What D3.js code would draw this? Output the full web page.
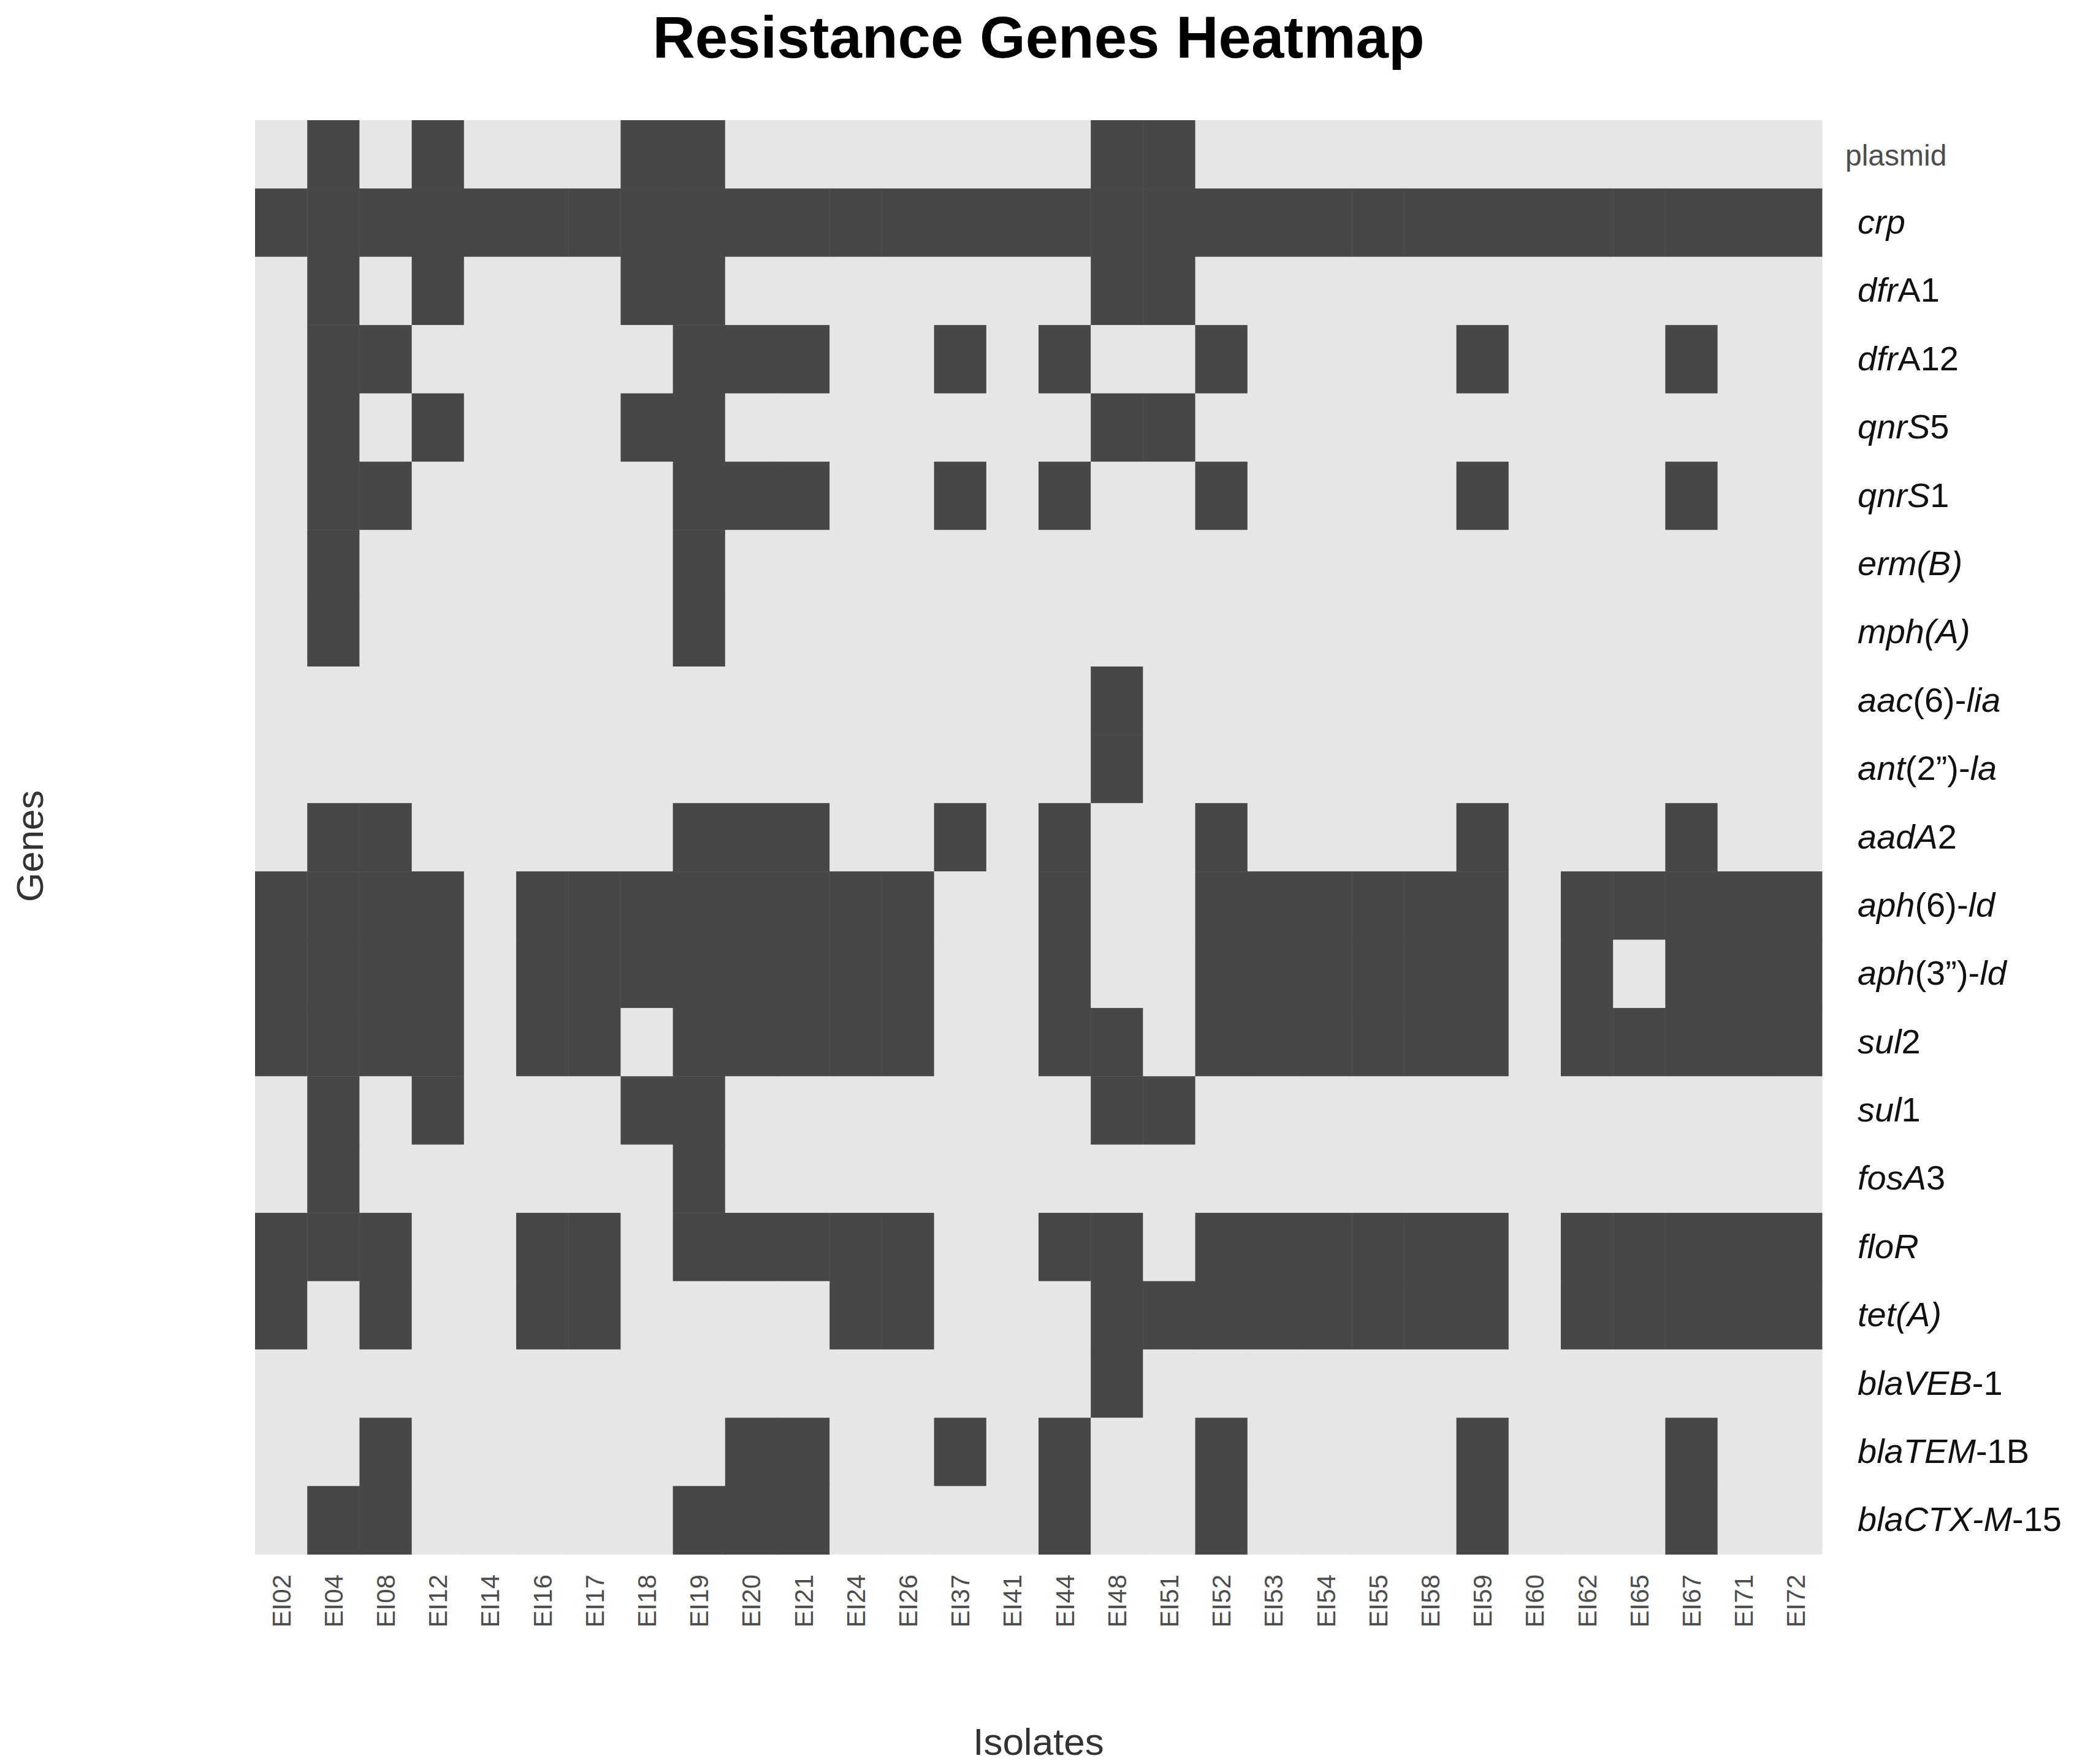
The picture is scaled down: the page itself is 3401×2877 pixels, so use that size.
<!DOCTYPE html>
<html>
<head>
<meta charset="utf-8">
<script src="https://cdn.jsdelivr.net/npm/d3@7"></script>
<style>
  body { margin: 0; background: #fff; }
  text { font-family: Arial, "Liberation Sans", sans-serif; }
</style>
</head>
<body>
<svg id="chart" width="3401" height="2877"></svg>
<script>
var isolates = ["EI02","EI04","EI08","EI12","EI14","EI16","EI17","EI18","EI19","EI20",
  "EI21","EI24","EI26","EI37","EI41","EI44","EI48","EI51","EI52","EI53",
  "EI54","EI55","EI58","EI59","EI60","EI62","EI65","EI67","EI71","EI72"];

var genes = ["plasmid","crp","dfrA1","dfrA12","qnrS5","qnrS1","erm(B)","mph(A)",
  "aac(6)-lia","ant(2\")-la","aadA2","aph(6)-ld","aph(3\")-ld","sul2","sul1",
  "fosA3","floR","tet(A)","blaVEB-1","blaTEM-1B","blaCTX-M-15"];

// label pieces: [text, italic]
var geneLabels = [
  [["plasmid", false]],
  [["crp", true]],
  [["dfr", true], ["A1", false]],
  [["dfr", true], ["A12", false]],
  [["qnrS", true], ["5", false]],
  [["qnrS", true], ["1", false]],
  [["erm(B)", true]],
  [["mph(A)", true]],
  [["aac", true], ["(6)-", false], ["lia", true]],
  [["ant", true], ["(2\u201d)-", false], ["la", true]],
  [["aadA", true], ["2", false]],
  [["aph", true], ["(6)-", false], ["ld", true]],
  [["aph", true], ["(3\u201d)-", false], ["ld", true]],
  [["sul", true], ["2", false]],
  [["sul", true], ["1", false]],
  [["fosA", true], ["3", false]],
  [["floR", true]],
  [["tet(A)", true]],
  [["blaVEB", true], ["-1", false]],
  [["blaTEM", true], ["-1B", false]],
  [["blaCTX-M", true], ["-15", false]]
];

// presence per gene, one char per isolate
var presence = [
  "010100011000000011000000000000",
  "111111111111111111111111111111",
  "010100011000000011000000000000",
  "011000001110010100100001000100",
  "010100011000000011000000000000",
  "011000001110010100100001000100",
  "010000001000000000000000000000",
  "010000001000000000000000000000",
  "000000000000000010000000000000",
  "000000000000000010000000000000",
  "011000001110010100100001000100",
  "111101111111100100111111011111",
  "111101111111100100111111010111",
  "111101101111100110111111011111",
  "010100011000000011000000000000",
  "010000001000000000000000000000",
  "111001101111100110111111011111",
  "101001100001100011111111011111",
  "000000000000000010000000000000",
  "001000000110010100100001000100",
  "011000001110000100100001000100"
];

var cells = [];
presence.forEach(function(row, gi) {
  row.split("").forEach(function(v, ii) {
    cells.push({gene: genes[gi], isolate: isolates[ii], value: +v});
  });
});

var svg = d3.select("#chart");
var plotLeft = 416, plotRight = 2972, plotTop = 196, plotBottom = 2535;

var x = d3.scaleBand().domain(isolates).range([plotLeft, plotRight]);
var y = d3.scaleBand().domain(genes).range([plotTop, plotBottom]);

svg.append("g").selectAll("rect").data(cells).enter().append("rect")
  .attr("x", function(d) { return x(d.isolate); })
  .attr("y", function(d) { return y(d.gene); })
  .attr("width", x.bandwidth() + 0.5)
  .attr("height", y.bandwidth() + 0.5)
  .attr("fill", function(d) { return d.value ? "#474747" : "#e6e6e6"; });

// x tick labels
svg.append("g").selectAll("text").data(isolates).enter().append("text")
  .attr("transform", function(d) {
    return "translate(" + (x(d) + x.bandwidth() / 2 + 15) + "," + 2568 + ") rotate(-90)";
  })
  .attr("text-anchor", "end")
  .attr("font-size", 42)
  .attr("fill", "#4d4d4d")
  .text(function(d) { return d; });

// gene labels
var gl = svg.append("g").selectAll("text").data(genes).enter().append("text")
  .attr("x", function(d, i) { return i === 0 ? 3010 : 3030; })
  .attr("y", function(d) { return y(d) + y.bandwidth() / 2 + 18; })
  .attr("font-size", function(d, i) { return i === 0 ? 48 : 56; })
  .attr("fill", function(d, i) { return i === 0 ? "#4d4d4d" : "#111"; });
gl.each(function(d, i) {
  var t = d3.select(this);
  geneLabels[i].forEach(function(p) {
    t.append("tspan").text(p[0]).attr("font-style", p[1] ? "italic" : "normal");
  });
});

svg.append("text")
  .attr("x", 1694).attr("y", 94)
  .attr("text-anchor", "middle")
  .attr("font-size", 96).attr("font-weight", "bold")
  .text("Resistance Genes Heatmap");

svg.append("text")
  .attr("x", 1694).attr("y", 2862)
  .attr("text-anchor", "middle")
  .attr("font-size", 62).attr("fill", "#333")
  .text("Isolates");

svg.append("text")
  .attr("transform", "translate(70," + 1380 + ") rotate(-90)")
  .attr("text-anchor", "middle")
  .attr("font-size", 62).attr("fill", "#333")
  .text("Genes");
</script>
</body>
</html>
